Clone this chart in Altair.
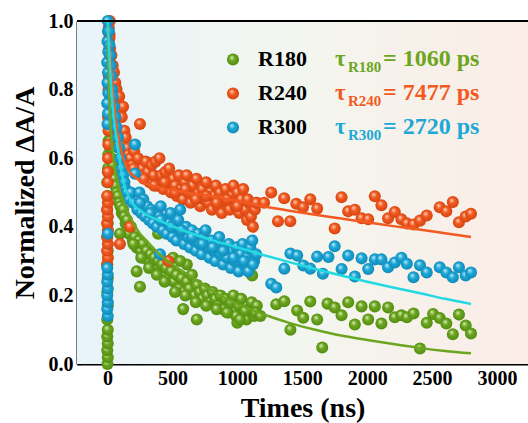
import altair as alt
import pandas as pd

# ---------------- data ----------------
series_names = ["R180", "R240", "R300"]
tau_values = ["1060", "7477", "2720"]

r180_t = [0, 2, -2, 2, -2, 2, -2, 2, -2, 2, -2, 2, -2, 2, -2, 2, -2, 4, 6, 8, 10,
          10, 15, 20, 25, 30, 35, 40, 45, 50, 60, 70, 80, 90, 100, 110, 120, 130, 140, 150,
          165, 180, 195, 210, 225, 240, 255, 270, 285, 300, 315, 330, 345, 360, 375, 390,
          405, 420, 435, 450, 470, 490, 510, 530, 550, 570, 590, 610, 630, 650, 670, 690,
          710, 730, 750, 770, 790, 810, 830, 850, 870, 890, 910, 930, 950, 970, 990, 1010,
          1030, 1050, 1070, 1090, 1110, 1130, 1150,
          96, 225, 250, 505, 583, 611, 688, 1114, 390, 1000, 1020, 560,
          200, 260, 320, 380, 440, 520, 600, 680, 760, 840, 920, 1060, 1140,
          1178, 1300, 1362, 1409, 1461, 1508, 1562, 1615, 1654, 1695, 1750, 1803, 1854,
          1905, 1957, 2008, 2059, 2110, 2161, 2213, 2264, 2306, 2357, 2407, 2459, 2508,
          2559, 2610, 2660, 2707, 2759, 2800]
r180_v = [0.0, 0.02, 0.04, 0.06, 0.08, 0.10, 0.13, 0.17, 0.21, 0.25, 0.29, 0.33, 0.37, 0.41,
          0.45, 0.49, 0.53, 0.57, 0.61, 0.65, 0.69,
          0.68, 0.65, 0.63, 0.60, 0.60, 0.57, 0.58, 0.55, 0.54, 0.52, 0.50, 0.49, 0.47, 0.46,
          0.44, 0.45, 0.43, 0.41, 0.42, 0.38, 0.40, 0.36, 0.37, 0.34, 0.36, 0.33, 0.35, 0.31,
          0.33, 0.30, 0.32, 0.29, 0.31, 0.28, 0.30, 0.27, 0.29, 0.26, 0.28, 0.25, 0.27, 0.24,
          0.26, 0.22, 0.25, 0.21, 0.24, 0.22, 0.26, 0.20, 0.23, 0.21, 0.19, 0.22, 0.20, 0.18,
          0.21, 0.19, 0.17, 0.20, 0.16, 0.19, 0.15, 0.18, 0.20, 0.14, 0.17, 0.19, 0.15, 0.13,
          0.16, 0.18, 0.14, 0.17,
          0.38, 0.27, 0.225, 0.31, 0.16, 0.29, 0.13, 0.258, 0.38, 0.12, 0.13, 0.30,
          0.35, 0.31, 0.28, 0.26, 0.24, 0.21, 0.20, 0.18, 0.17, 0.16, 0.15, 0.155, 0.15,
          0.14, 0.174, 0.183, 0.10, 0.156, 0.135, 0.182, 0.13, 0.048, 0.176, 0.165, 0.142,
          0.18, 0.115, 0.168, 0.13, 0.168, 0.118, 0.165, 0.136, 0.142, 0.136, 0.147, 0.045,
          0.12, 0.146, 0.134, 0.118, 0.087, 0.144, 0.112, 0.089]

r240_t = [-3, 3, -3, 3, -3, 3, -3, 3, -3, 3, -3, 3,
          2, 4, 6, 8, 4, 6, 8, 10, 12, 14, 16, 18,
          10, 15, 20, 30, 40, 50, 60, 70, 80, 90, 100, 110, 120, 130, 140, 150, 160, 175,
          190, 205, 220, 235, 250, 265, 280, 295, 310, 325, 340, 355, 370, 385, 400, 415,
          430, 445, 460, 475, 490, 505, 520, 535, 550, 565, 580, 595, 610, 625, 640, 655,
          670, 685, 700, 715, 730, 745, 760, 775, 790, 805, 820, 835, 850, 865, 880, 895,
          910, 925, 940, 955, 970, 985, 1000, 1015, 1030, 1045, 1060, 1075, 1090, 1105,
          1120, 1135, 1150,
          96, 173, 469,
          200, 280, 360, 440, 520, 600, 680, 760, 840, 920, 1000, 1080,
          1146, 1206, 1261, 1313, 1361, 1408, 1454, 1506, 1562, 1615, 1750, 1803, 1854,
          1905, 1957, 2008, 2059, 2110, 2161, 2213, 2264, 2306, 2357, 2407, 2459, 2559,
          2610, 2660, 2707, 2759, 2800]
r240_v = [0.29, 0.31, 0.33, 0.35, 0.37, 0.39, 0.41, 0.43, 0.45, 0.47, 0.49, 0.53,
          0.56, 0.60, 0.64, 0.68, 0.72, 0.76, 0.80, 0.84, 0.88, 0.92, 0.96, 1.0,
          0.98, 0.95, 0.92, 0.90, 0.87, 0.85, 0.82, 0.80, 0.77, 0.78, 0.74, 0.72, 0.75,
          0.68, 0.66, 0.63, 0.61, 0.60, 0.58, 0.62, 0.56, 0.60, 0.70, 0.57, 0.55, 0.59,
          0.56, 0.53, 0.58, 0.55, 0.59, 0.52, 0.60, 0.55, 0.51, 0.56, 0.53, 0.57, 0.50,
          0.54, 0.52, 0.49, 0.55, 0.51, 0.48, 0.53, 0.55, 0.50, 0.47, 0.52, 0.49, 0.54,
          0.50, 0.46, 0.51, 0.48, 0.53, 0.47, 0.50, 0.45, 0.49, 0.52, 0.46, 0.50, 0.44,
          0.48, 0.51, 0.47, 0.45, 0.49, 0.52, 0.46, 0.50, 0.44, 0.48, 0.51, 0.45, 0.42,
          0.47, 0.43, 0.40, 0.45, 0.47,
          0.35, 0.40, 0.30,
          0.57, 0.54, 0.52, 0.53, 0.50, 0.51, 0.48, 0.49, 0.47, 0.48, 0.46, 0.48,
          0.47, 0.47, 0.50, 0.416, 0.483, 0.416, 0.467, 0.457, 0.48, 0.453, 0.395, 0.486,
          0.445, 0.45, 0.425, 0.422, 0.489, 0.463, 0.425, 0.443, 0.422, 0.41, 0.407,
          0.418, 0.433, 0.457, 0.445, 0.472, 0.413, 0.43, 0.438]

r300_t = [2, -2, 2, -2, 2, -2, 2, -2, 2,
          0, 4, -2, 6, 0, 4, -2, 6, 0, 4, 2,
          10, 15, 20, 25, 30, 35, 40, 50, 60, 70, 80, 90, 100, 110, 120, 130, 140, 150,
          165, 180, 212, 212, 195, 230, 245, 260, 275, 290, 305, 320, 335, 350, 365, 380,
          395, 410, 425, 440, 455, 470, 485, 500, 515, 530, 545, 560, 575, 590, 605, 620,
          635, 650, 665, 680, 695, 710, 725, 740, 755, 770, 785, 800, 815, 830, 845, 860,
          875, 890, 905, 920, 935, 950, 965, 980, 995, 1010, 1025, 1040, 1055, 1070, 1085,
          1100, 1115, 1130, 1145, 404,
          250, 330, 410, 490, 570, 650, 730, 810, 890, 970, 1050, 1120,
          1261, 1300, 1362, 1409, 1461, 1508, 1562, 1615, 1659, 1702, 1750, 1803, 1854,
          1905, 1957, 2008, 2059, 2110, 2161, 2213, 2264, 2306, 2357, 2407, 2459, 2559,
          2610, 2660, 2707, 2759, 2800]
r300_v = [0.14, 0.16, 0.18, 0.20, 0.22, 0.24, 0.26, 0.28, 0.38,
          0.70, 0.73, 0.76, 0.79, 0.82, 0.85, 0.88, 0.91, 0.94, 0.97, 1.0,
          0.97, 0.93, 0.90, 0.87, 0.84, 0.80, 0.78, 0.75, 0.72, 0.69, 0.66, 0.63, 0.60,
          0.57, 0.55, 0.53, 0.51, 0.50, 0.48, 0.50, 0.64, 0.555, 0.47, 0.45, 0.50, 0.44,
          0.48, 0.43, 0.46, 0.42, 0.45, 0.41, 0.44, 0.40, 0.43, 0.46, 0.39, 0.42, 0.38,
          0.41, 0.44, 0.37, 0.40, 0.36, 0.42, 0.45, 0.38, 0.35, 0.40, 0.37, 0.34, 0.39,
          0.36, 0.33, 0.38, 0.35, 0.32, 0.37, 0.39, 0.34, 0.31, 0.36, 0.33, 0.30, 0.35,
          0.37, 0.32, 0.29, 0.34, 0.31, 0.35, 0.28, 0.33, 0.30, 0.34, 0.27, 0.32, 0.35,
          0.29, 0.31, 0.27, 0.34, 0.36, 0.30, 0.32, 0.32,
          0.47, 0.44, 0.42, 0.40, 0.39, 0.37, 0.35, 0.34, 0.33, 0.31, 0.30, 0.29,
          0.234, 0.223, 0.278, 0.322, 0.316, 0.287, 0.278, 0.313, 0.263, 0.312, 0.343,
          0.277, 0.316, 0.255, 0.308, 0.277, 0.305, 0.305, 0.282, 0.296, 0.31, 0.292,
          0.253, 0.288, 0.267, 0.282, 0.267, 0.253, 0.282, 0.258, 0.267]

fit_t = [2, 10, 20, 30, 40, 50, 60, 70, 80, 100, 130, 160, 200, 250, 300, 400, 500, 600,
         700, 800, 1000, 1200, 1400, 1600, 1800, 2000, 2200, 2400, 2600, 2800]
fit_r180 = [0.98, 0.82, 0.72, 0.66, 0.62, 0.59, 0.565, 0.545, 0.53, 0.50, 0.465, 0.44,
            0.41, 0.38, 0.36, 0.32, 0.29, 0.265, 0.24, 0.215, 0.175, 0.145, 0.12, 0.10,
            0.083, 0.07, 0.058, 0.047, 0.038, 0.031]
fit_r240 = [1.0, 0.95, 0.90, 0.85, 0.80, 0.76, 0.72, 0.69, 0.67, 0.63, 0.59, 0.565, 0.548,
            0.535, 0.525, 0.515, 0.507, 0.50, 0.495, 0.49, 0.475, 0.46, 0.447, 0.435,
            0.424, 0.413, 0.402, 0.392, 0.381, 0.37]
fit_r300 = [1.0, 0.93, 0.86, 0.80, 0.75, 0.71, 0.68, 0.66, 0.63, 0.58, 0.52, 0.49, 0.465,
            0.448, 0.435, 0.418, 0.402, 0.387, 0.374, 0.362, 0.34, 0.318, 0.297, 0.277,
            0.258, 0.24, 0.223, 0.207, 0.19, 0.175]

x_ticks = [0, 250, 500, 750, 1000, 1250, 1500, 1750, 2000, 2250, 2500, 2750, 3000]
y_ticks = [0.0, 0.1, 0.2, 0.3, 0.4, 0.5, 0.6, 0.7, 0.8, 0.9, 1.0]

# ---------------- styling ----------------
W, H = 451, 343
FONT = "Liberation Serif"
base_colors = ["#6ca520", "#f25a22", "#1da8d6"]
light_colors = ["#dff3bf", "#ffd6bf", "#c9efff"]
dark_colors = ["#4e8a0c", "#d2410c", "#0e85b3"]
line_colors = ["#6ca520", "#f25a22", "#22d9e2"]
PT = 145

xs = alt.Scale(domain=[-235, 3239], nice=False, zero=False)
ys = alt.Scale(domain=[0, 1], nice=False, zero=False)

common_axis = dict(
    tickSize=alt.ExprRef(expr="-4"), tickWidth=1.5, tickColor="black",
    domainWidth=2, domainColor="black", grid=False,
    labelFont=FONT, labelFontSize=20, labelFontWeight="bold", labelColor="black",
    titleFont=FONT, titleFontSize=28, titleFontWeight="bold", titleColor="black",
    labelOverlap=False, labelFlush=False,
)
x_axis = alt.Axis(title="Times (ns)", values=x_ticks,
                  labelExpr="datum.value % 500 == 0 ? format(datum.value, 'd') : ''",
                  labelPadding=8, titlePadding=6, **common_axis)
y_axis = alt.Axis(title="Normalized \u0394A/A", values=y_ticks,
                  labelExpr="round(datum.value * 10) % 2 == 0 ? format(datum.value, '.1f') : ''",
                  labelPadding=8, titlePadding=9, **common_axis)


def ball(i):
    return alt.RadialGradient(
        gradient="radial", x1=0.38, y1=0.32, r1=0.0, x2=0.5, y2=0.5, r2=0.55,
        stops=[alt.GradientStop(color=light_colors[i], offset=0.0),
               alt.GradientStop(color=base_colors[i], offset=0.42),
               alt.GradientStop(color=dark_colors[i], offset=1.0)])


bg = alt.Chart(pd.DataFrame({"a": [0]})).mark_rect(
    fill=alt.LinearGradient(
        gradient="linear", x1=0, y1=0, x2=1, y2=0,
        stops=[alt.GradientStop(color="#e8f4f9", offset=0.0),
               alt.GradientStop(color="#f3f6ef", offset=0.5),
               alt.GradientStop(color="#fbece6", offset=1.0)]),
    strokeWidth=0,
).encode(x=alt.value(0), x2=alt.value(W), y=alt.value(0), y2=alt.value(H))

point_data = [(r180_t, r180_v), (r240_t, r240_v), (r300_t, r300_v)]
fit_data = [fit_r180, fit_r240, fit_r300]

layers = [bg]
for i, (tt, vv) in enumerate(point_data):
    df = pd.DataFrame({"t": tt, "v": vv})
    layers.append(
        alt.Chart(df).mark_point(filled=True, size=PT, fill=ball(i), opacity=1, strokeWidth=0).encode(
            x=alt.X("t:Q", scale=xs, axis=x_axis),
            y=alt.Y("v:Q", scale=ys, axis=y_axis),
        )
    )
for i, fv in enumerate(fit_data):
    df = pd.DataFrame({"t": fit_t, "v": fv})
    layers.append(
        alt.Chart(df).mark_line(color=line_colors[i], strokeWidth=2.5, interpolate="monotone", clip=True).encode(
            x=alt.X("t:Q", scale=xs, axis=x_axis),
            y=alt.Y("v:Q", scale=ys, axis=y_axis),
        )
    )

# top frame line
layers.append(
    alt.Chart(pd.DataFrame({"a": [0]})).mark_rule(color="black", strokeWidth=2).encode(
        x=alt.value(0), x2=alt.value(W), y=alt.value(0))
)

# custom legend
one = pd.DataFrame({"a": [0]})
for i, name in enumerate(series_names):
    yb = 38.5 + 34 * i
    yt = 45 + 34 * i
    layers.append(alt.Chart(one).mark_point(filled=True, size=PT, fill=ball(i), opacity=1, strokeWidth=0)
                  .encode(x=alt.value(156), y=alt.value(yb)))
    layers.append(alt.Chart(one).mark_text(text=name, font=FONT, fontSize=22, fontWeight="bold",
                                           color="black", align="left", baseline="alphabetic")
                  .encode(x=alt.value(181), y=alt.value(yt)))
    layers.append(alt.Chart(one).mark_text(text="\u03c4", font=FONT, fontSize=23, fontWeight="bold",
                                           color=base_colors[i], align="left", baseline="alphabetic")
                  .encode(x=alt.value(258), y=alt.value(yt)))
    layers.append(alt.Chart(one).mark_text(text=name, font=FONT, fontSize=15, fontWeight="bold",
                                           color=base_colors[i], align="left", baseline="alphabetic")
                  .encode(x=alt.value(271), y=alt.value(yt + 6)))
    layers.append(alt.Chart(one).mark_text(text="= " + tau_values[i] + " ps", font=FONT, fontSize=24,
                                           fontWeight="bold", color=base_colors[i], align="left",
                                           baseline="alphabetic")
                  .encode(x=alt.value(306), y=alt.value(yt)))

chart = alt.layer(*layers).properties(
    width=W, height=H,
    autosize=alt.AutoSizeParams(type="none"),
    padding={"left": 77, "top": 21, "right": 0, "bottom": 59},
    background="white",
).configure_view(stroke=None)

chart.save("out.html", embed_options={"renderer": "svg", "actions": False})
